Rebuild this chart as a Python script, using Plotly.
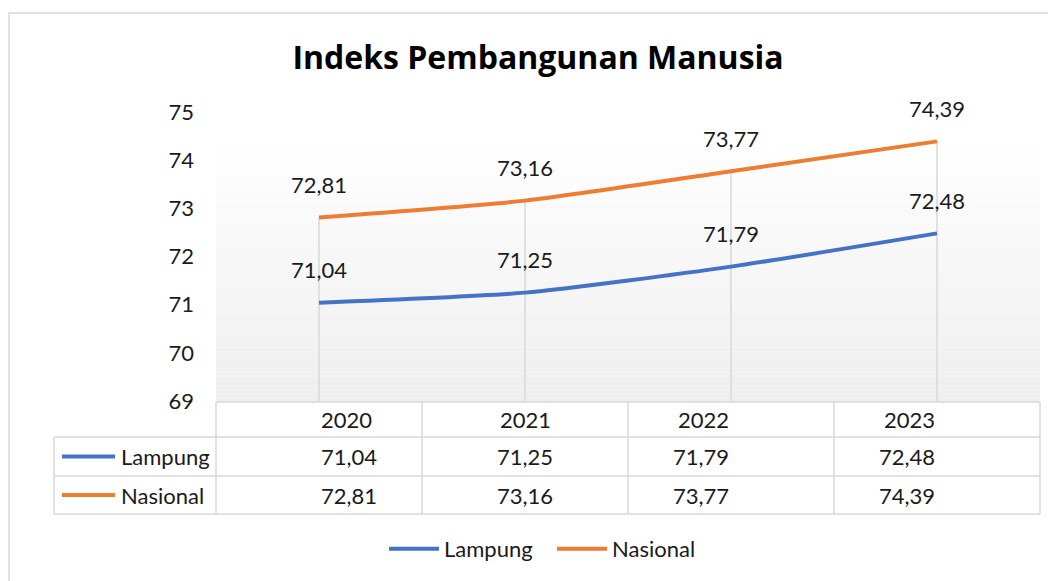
import plotly.graph_objects as go

W, H = 1056, 581
OFF = 8  # the page body adds an 8 px margin; pixel positions below are from the reference

years = ["2020", "2021", "2022", "2023"]
lampung = [71.04, 71.25, 71.79, 72.48]
nasional = [72.81, 73.16, 73.77, 74.39]
y_ticks = [69, 70, 71, 72, 73, 74, 75]

BLUE = "#4472C4"
ORANGE = "#ED7D31"
GRID = "#D9D9D9"
TXT = "#1a1a1a"
FONT = "Lato, Carlito, Calibri, sans-serif"
FS = 22


def px(x):
    return (x - OFF) / W


def py(y):
    return 1 - (y - OFF) / H


def fmt(v):
    return f"{v:.2f}".replace(".", ",")


# plot area in pixels
X0, X1 = 216, 1040
Y_TOP, Y_BOT = 112, 401

fig = go.Figure()

# drop lines from the highest point down to the axis floor
drop_x, drop_y = [], []
for i, yr in enumerate(years):
    drop_x += [yr, yr, None]
    drop_y += [y_ticks[0], max(lampung[i], nasional[i]), None]
fig.add_trace(go.Scatter(x=drop_x, y=drop_y, mode="lines",
                         line=dict(color=GRID, width=1.5),
                         showlegend=False, hoverinfo="skip"))

for name, vals, col in [("Lampung", lampung, BLUE), ("Nasional", nasional, ORANGE)]:
    fig.add_trace(go.Scatter(x=years, y=vals, name=name, mode="lines",
                             line=dict(color=col, width=4, shape="spline", smoothing=0.6)))

annotations = []
# data labels
for vals in (lampung, nasional):
    for i, v in enumerate(vals):
        annotations.append(dict(x=i, y=v, xref="x", yref="y", text=fmt(v), showarrow=False,
                                yshift=33, font=dict(size=FS, color=TXT, family=FONT)))

shapes = []
# gradient background of the plot area
n = 60
g_top, g_bot = 150, 402
for k in range(n):
    t = k / (n - 1)
    c = int(round(254 - t * (254 - 238)))
    ya = g_top + (g_bot - g_top) * k / n
    yb = g_top + (g_bot - g_top) * (k + 1) / n
    shapes.append(dict(type="rect", xref="paper", yref="paper",
                       x0=px(X0), x1=px(X1), y0=py(yb), y1=py(ya),
                       fillcolor=f"rgb({c},{c},{c})", line=dict(width=0), layer="below"))

# outer chart border
shapes.append(dict(type="rect", xref="paper", yref="paper",
                   x0=px(9), x1=px(1080), y0=py(620), y1=py(13),
                   line=dict(color=GRID, width=1.5)))

# data table
row_y = [402, 437, 476, 514]
col_x = [X0 + (X1 - X0) * i / len(years) for i in range(len(years) + 1)]
TL = 54


def hline(x0, x1, y):
    shapes.append(dict(type="line", xref="paper", yref="paper",
                       x0=px(x0), x1=px(x1), y0=py(y), y1=py(y),
                       line=dict(color=GRID, width=1.5)))


def vline(x, y0, y1):
    shapes.append(dict(type="line", xref="paper", yref="paper",
                       x0=px(x), x1=px(x), y0=py(y0), y1=py(y1),
                       line=dict(color=GRID, width=1.5)))


hline(X0, X1, row_y[0])
for y in row_y[1:]:
    hline(TL, X1, y)
vline(TL, row_y[1], row_y[3])
for x in col_x:
    vline(x, row_y[0], row_y[3])

# header cells
for i, yr in enumerate(years):
    cx = (col_x[i] + col_x[i + 1]) / 2
    annotations.append(dict(x=px(cx), y=py((row_y[0] + row_y[1]) / 2), xref="paper", yref="paper",
                            yanchor="middle", text=yr, showarrow=False,
                            font=dict(size=FS, color=TXT, family=FONT)))
# series rows
for r, (name, vals, col) in enumerate([("Lampung", lampung, BLUE), ("Nasional", nasional, ORANGE)]):
    cy = (row_y[r + 1] + row_y[r + 2]) / 2
    shapes.append(dict(type="line", xref="paper", yref="paper",
                       x0=px(62), x1=px(115), y0=py(cy), y1=py(cy),
                       line=dict(color=col, width=4)))
    annotations.append(dict(x=px(119), y=py(cy), xref="paper", yref="paper", xanchor="left",
                            yanchor="middle", text=name, showarrow=False,
                            font=dict(size=FS, color=TXT, family=FONT)))
    for i, v in enumerate(vals):
        cx = (col_x[i] + col_x[i + 1]) / 2
        annotations.append(dict(x=px(cx), y=py(cy), xref="paper", yref="paper", yanchor="middle",
                                text=fmt(v), showarrow=False,
                                font=dict(size=FS, color=TXT, family=FONT)))

fig.update_layout(
    width=W, height=H,
    margin=dict(l=0, r=0, t=0, b=0, pad=0, autoexpand=False),
    paper_bgcolor="white", plot_bgcolor="rgba(0,0,0,0)",
    font=dict(family=FONT, size=FS, color=TXT),
    title=dict(text="<b>Indeks Pembangunan Manusia</b>", x=px(538), xanchor="center",
               y=py(58), yanchor="middle",
               font=dict(size=32, color="#000000", family="Open Sans, sans-serif")),
    xaxis=dict(type="category", domain=[px(X0), px(X1)], range=[-0.5, 3.5], showticklabels=False,
               showgrid=False, zeroline=False, showline=False, fixedrange=True, automargin=False),
    yaxis=dict(domain=[py(Y_BOT), py(Y_TOP)], range=[69, 75], tickvals=y_ticks,
               showgrid=False, zeroline=False, showline=False, ticks="", automargin=False,
               ticklabelstandoff=21, tickfont=dict(size=FS, color=TXT)),
    legend=dict(orientation="h", x=px(552), xanchor="center", y=py(549), yanchor="middle",
                font=dict(size=FS, color=TXT), itemwidth=50,
                entrywidth=103, entrywidthmode="pixels"),
    shapes=shapes,
    annotations=annotations,
)

fig.write_html("out.html")
